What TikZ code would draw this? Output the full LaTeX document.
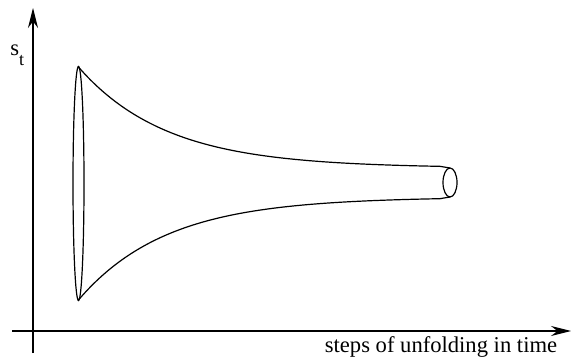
\documentclass[tikz,border=0pt]{standalone}
\usepackage{fontspec}
\setmainfont{Liberation Serif}
\usetikzlibrary{arrows.meta}
\tikzset{
  axis/.style={line width=0.6pt, -{Stealth[length=10pt,width=5pt]}},
  tube/.style={line width=0.6pt},
  lbl/.style={inner sep=0pt, font=\fontsize{11.3}{13}\selectfont}
}
\begin{document}
\begin{tikzpicture}[x=0.5pt, y=-0.5pt]
    \useasboundingbox (0,0) rectangle (571,357);

    % axes
    \coordinate (ybot) at (33,353);
    \coordinate (ytop) at (33,8);
    \coordinate (xleft) at (12,331);
    \coordinate (xright) at (571,331);
    \draw[axis] (ybot) -- (ytop);
    \draw[axis] (xleft) -- (xright);
    \node[lbl, anchor=base] (tlabel) at (441,352) {steps of unfolding in time};
    \node[lbl, anchor=base west] (slabel) at (10,56) {s\raisebox{-5pt}{\fontsize{9}{9}\selectfont t}};

    % funnel: wide start, narrow tube at the end
    \coordinate (ltop) at (78,66.5);
    \coordinate (lbot) at (78,300.5);
    \coordinate (rtop) at (450,168);
    \coordinate (rbot) at (450,197);
    \draw[tube] (78.5,183.5) ellipse [x radius=5.5, y radius=117];
    \draw[tube] (450,182.5) ellipse [x radius=7, y radius=14.5];
    \draw[tube] plot[domain=78:440, samples=90, smooth] (\x, {168-101.5*exp(-(\x-78)/88)}) -- (rtop);
    \draw[tube] plot[domain=78:440, samples=90, smooth] (\x, {197+103.5*exp(-(\x-78)/88)}) -- (rbot);
\end{tikzpicture}
\end{document}
